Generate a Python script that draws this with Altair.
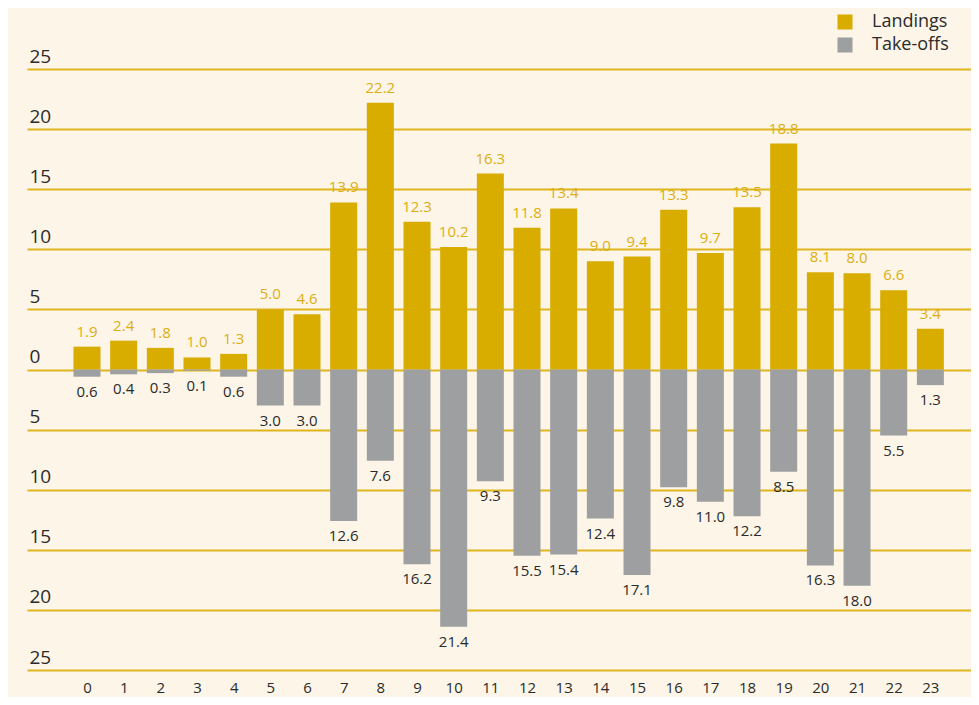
import altair as alt
import pandas as pd

hours = list(range(24))
landings = [1.9, 2.4, 1.8, 1.0, 1.3, 5.0, 4.6, 13.9, 22.2, 12.3, 10.2, 16.3,
            11.8, 13.4, 9.0, 9.4, 13.3, 9.7, 13.5, 18.8, 8.1, 8.0, 6.6, 3.4]
takeoffs = [0.6, 0.4, 0.3, 0.1, 0.6, 3.0, 3.0, 12.6, 7.6, 16.2, 21.4, 9.3,
            15.5, 15.4, 12.4, 17.1, 9.8, 11.0, 12.2, 8.5, 16.3, 18.0, 5.5, 1.3]
series = ["Landings", "Take-offs"]
y_ticks = list(range(-25, 26, 5))

GOLD = "#d9ac00"
GOLD_TXT = "#dcae12"
GRID = "#dfb51e"
GRAY = "#9e9fa1"
BG = "#fcf5e8"
DARK = "#2b2b2b"
FONT = "Open Sans"

rows = []
for h, l, t in zip(hours, landings, takeoffs):
    rows.append({"hour": h, "type": series[0], "value": l, "label": f"{l:.1f}"})
    rows.append({"hour": h, "type": series[1], "value": -t, "label": f"{t:.1f}"})
df = pd.DataFrame(rows)

x = alt.X("hour:Q",
          scale=alt.Scale(domain=[-1.636, 24.108], nice=False, zero=False, padding=0),
          axis=alt.Axis(values=hours, format="d", title=None, grid=False,
                        domain=False, ticks=False, labelFontSize=15,
                        labelColor=DARK, labelFont=FONT, labelBaseline="alphabetic",
                        labelPadding=22, labelFlush=False, labelOverlap=False))
y = alt.Y("value:Q",
          scale=alt.Scale(domain=[-25, 25], nice=False),
          axis=alt.Axis(values=y_ticks, labelExpr="abs(datum.value)", title=None,
                        domain=False, ticks=False, grid=True, gridColor=GRID,
                        gridWidth=1.8, labelAlign="left", labelPadding=-2,
                        labelBaseline="alphabetic", labelOffset=-7,
                        labelFontSize=19, labelColor=DARK, labelFont=FONT,
                        labelOverlap=False, labelFlush=False))

base = alt.Chart(df)

bars = base.mark_bar(size=27).encode(
    x=x, y=y,
    color=alt.Color("type:N",
                    scale=alt.Scale(domain=series, range=[GOLD, GRAY]),
                    legend=alt.Legend(title=None, orient="none", legendX=809,
                                      legendY=-56, symbolType="square",
                                      symbolSize=225, symbolStrokeWidth=0,
                                      labelFontSize=18, labelFont=FONT,
                                      labelColor=DARK, labelOffset=18,
                                      rowPadding=5, padding=0)),
    order=alt.Order("type:N", sort="descending"),
)

text_land = base.transform_filter(alt.datum.type == "Landings").mark_text(
    dy=-10, baseline="alphabetic", fontSize=15, font=FONT, color=GOLD_TXT
).encode(x="hour:Q", y="value:Q", text="label:N")

text_take = base.transform_filter(alt.datum.type == "Take-offs").mark_text(
    dy=20, baseline="alphabetic", fontSize=15, font=FONT, color=DARK
).encode(x="hour:Q", y="value:Q", text="label:N")

chart = alt.layer(bars, text_land, text_take).properties(
    width=944, height=601, background=BG,
    padding={"left": 19, "top": 61, "right": 0, "bottom": 27},
    autosize=alt.AutoSizeParams(type="none"),
).configure_view(stroke=None)

chart.save("out.html", embed_options={"renderer": "svg", "actions": False})
